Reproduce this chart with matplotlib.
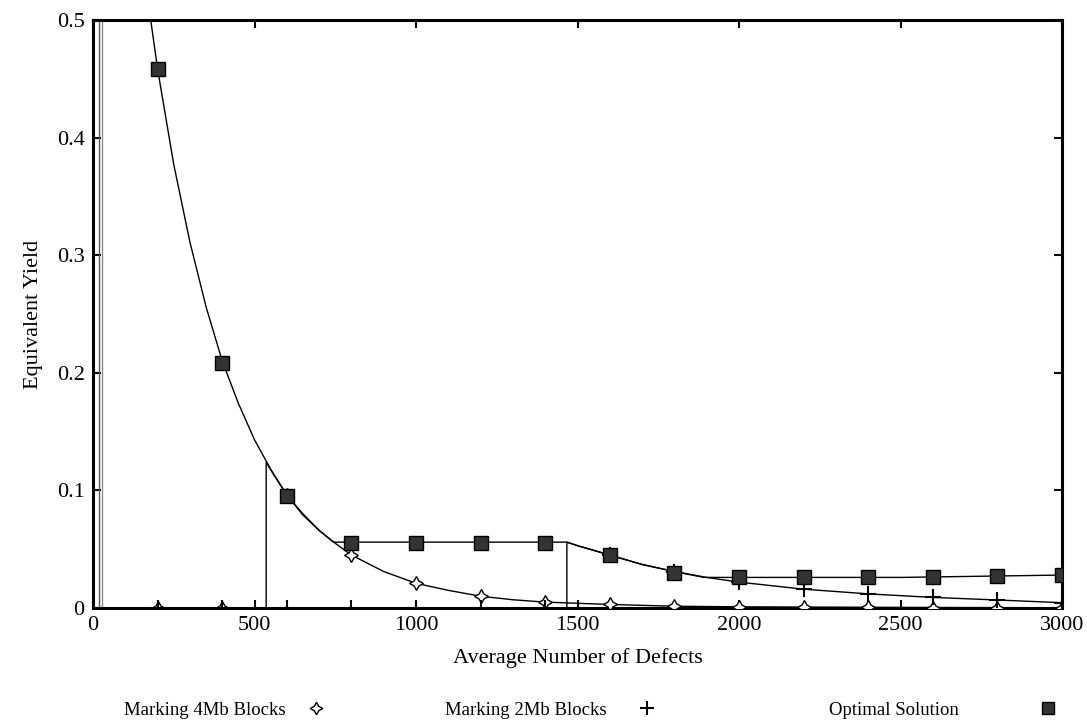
import numpy as np
import matplotlib
matplotlib.use("Agg")
import matplotlib.pyplot as plt

plt.rcParams['font.family'] = ['Liberation Serif', 'DejaVu Serif']

# marker points (every 200 defects)
x_pts = [200, 400, 600, 800, 1000, 1200, 1400, 1600, 1800, 2000, 2200, 2400, 2600, 2800, 3000]
y_4mb = [0, 0, 0.096, 0.045, 0.021, 0.010, 0.005, 0.003, 0.0015, 0.001, 0.0007, 0.0005, 0.0003, 0.0002, 0.0001]
y_2mb = [0, 0, 0, 0, 0, 0, 0, 0.045, 0.031, 0.022, 0.016, 0.012, 0.009, 0.0068, 0.0045]
y_opt = [0.458, 0.208, 0.095, 0.055, 0.055, 0.055, 0.055, 0.045, 0.030, 0.026, 0.026, 0.026, 0.026, 0.027, 0.028]

# curves
line_4mb_x = [0, 536, 536, 560, 600, 650, 700, 750, 800, 900, 1000, 1100, 1200, 1300, 1400, 1500, 1600, 1800, 2000, 2500, 3000]
line_4mb_y = [0, 0, 0.124, 0.113, 0.096, 0.079, 0.066, 0.055, 0.045, 0.031, 0.021, 0.015, 0.010, 0.007, 0.005, 0.004, 0.003, 0.0015, 0.001, 0.0005, 0.0002]
line_2mb_x = [0, 1467, 1467, 1500, 1600, 1700, 1800, 1900, 2000, 2200, 2400, 2600, 2800, 3000]
line_2mb_y = [0, 0, 0.056, 0.053, 0.045, 0.037, 0.031, 0.026, 0.022, 0.016, 0.012, 0.009, 0.0068, 0.0045]
line_opt_x = [150, 200, 250, 300, 350, 400, 450, 500, 550, 600, 650, 700, 744, 1467, 1500, 1600, 1700, 1800, 1891, 2000, 2500, 3000]
line_opt_y = [0.556, 0.458, 0.377, 0.311, 0.256, 0.210, 0.174, 0.143, 0.118, 0.096, 0.080, 0.066, 0.056, 0.056, 0.053, 0.045, 0.037, 0.031, 0.026, 0.026, 0.026, 0.028]
spike_x = [18, 27]

fig = plt.figure(figsize=(10.87, 7.27), dpi=100)
ax = fig.add_axes([0.0856, 0.1637, 0.8914, 0.8088])

ax.vlines(spike_x, 0, 0.5, colors=['0.35', '0.55'], lw=1.0)
ax.plot(line_4mb_x, line_4mb_y, color='k', lw=1.0)
ax.plot(line_2mb_x, line_2mb_y, color='k', lw=1.0)
ax.plot(line_opt_x, line_opt_y, color='k', lw=1.0)

ax.plot(x_pts, y_4mb, ls='none', marker=(4, 1, 0), ms=10, mfc='white', mec='k', mew=1.0, zorder=4)
ax.plot(x_pts, y_2mb, ls='none', marker='+', ms=12, mec='k', mew=1.5, zorder=4)
ax.plot(x_pts, y_opt, ls='none', marker='s', ms=10, mfc='#333333', mec='k', mew=1.0, zorder=5)

ax.set_xlim(0, 3000)
ax.set_ylim(0, 0.5)
ax.set_xticks([0, 500, 1000, 1500, 2000, 2500, 3000])
ax.set_yticks([0, 0.1, 0.2, 0.3, 0.4, 0.5])
ax.set_yticklabels(['0', '0.1', '0.2', '0.3', '0.4', '0.5'])
ax.tick_params(direction='in', length=6, width=1.5, top=True, right=True, labelsize=16, pad=6)
for s in ax.spines.values():
    s.set_linewidth(2.2)

ax.set_xlabel('Average Number of Defects', fontsize=16, labelpad=9)
ax.set_ylabel('Equivalent Yield', fontsize=16, labelpad=10)

# legend row along the bottom
fig.text(0.114, 0.016, 'Marking 4Mb Blocks', fontsize=13.5, va='baseline')
fig.text(0.409, 0.016, 'Marking 2Mb Blocks', fontsize=13.5, va='baseline')
fig.text(0.763, 0.016, 'Optimal Solution', fontsize=13.5, va='baseline')
fig.lines.append(plt.Line2D([0.291], [0.026], transform=fig.transFigure, marker=(4, 1, 0), ms=9, mfc='white', mec='k', ls='none'))
fig.lines.append(plt.Line2D([0.595], [0.026], transform=fig.transFigure, marker='+', ms=10, mec='k', mew=1.5, ls='none'))
fig.lines.append(plt.Line2D([0.964], [0.026], transform=fig.transFigure, marker='s', ms=8, mfc='#333333', mec='k', ls='none'))

fig.savefig('out.png', dpi=100)
